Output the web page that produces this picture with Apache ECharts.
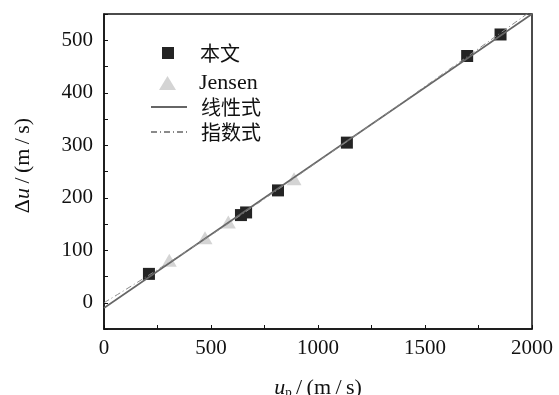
<!DOCTYPE html>
<html>
<head>
<meta charset="utf-8">
<script src="https://cdn.jsdelivr.net/npm/echarts@6/dist/echarts.min.js"></script>
<style>html,body{margin:0;padding:0;background:#fff}#c{width:559px;height:395px}</style>
</head>
<body>
<div id="c"></div>
<script>
var seriesNames = ['本文', 'Jensen', '线性式', '指数式'];
var benwenData = [[210, 55], [640, 167], [664, 172], [813, 214], [1135, 305], [1697, 470], [1853, 511]];
var jensenData = [[305, 81], [472, 124], [581, 154], [888, 236]];
var linearData = [[0, -10], [2000, 550]];
var expData = [[0, 0], [250, 63], [500, 129], [750, 198], [1000, 269], [1250, 340], [1500, 412], [1750, 484], [2000, 557]];
var xTicks = [0, 500, 1000, 1500, 2000];
var yTicks = [0, 100, 200, 300, 400, 500];

var serif = '"Liberation Serif", "Noto Sans CJK SC", serif';
var cjk = '"Noto Sans CJK SC", "Liberation Serif", serif';
function legendFor(name, left, top, w, h, pad, font, size, extra) {
  var l = {
    orient: 'vertical', left: left, top: top, padding: 0,
    itemWidth: w, itemHeight: h, itemGap: 0,
    data: [name],
    textStyle: {fontFamily: font, fontSize: size, color: '#111', lineHeight: 20, padding: [0, 0, 0, pad]}
  };
  if (extra) { for (var k in extra) l[k] = extra[k]; }
  return l;
}
var chart = echarts.init(document.getElementById('c'));
chart.setOption({
  animation: false,
  backgroundColor: '#fff',
  grid: {left: 104, right: 27, top: 14, bottom: 66, show: true, borderColor: '#111', borderWidth: 1.5,
    containLabel: false, outerBoundsMode: 'none'},
  legend: [
    legendFor(seriesNames[0], 162, 43, 12, 12, 21, cjk, 20, {symbolKeepAspect: true}),
    legendFor(seriesNames[1], 159, 72, 17, 14, 18, serif, 22, {symbolKeepAspect: false}),
    legendFor(seriesNames[2], 150, 97, 36, 12, 9, cjk, 20, {itemStyle: {opacity: 0}}),
    legendFor(seriesNames[3], 150, 122, 36, 12, 9, cjk, 20, {itemStyle: {opacity: 0}})
  ],
  xAxis: {
    type: 'value', min: 0, max: 2000, interval: 250,
    name: '{i|u}{s|p}{n|\u2009/\u2009(m\u2009/\u2009s)}', nameLocation: 'middle', nameGap: 48,
    nameTextStyle: {rich: {
      i: {fontFamily: serif, fontStyle: 'italic', fontSize: 22, color: '#111', lineHeight: 22},
      s: {fontFamily: serif, fontSize: 13, color: '#111', verticalAlign: 'bottom', lineHeight: 13},
      n: {fontFamily: serif, fontSize: 22, color: '#111', lineHeight: 22}
    }},
    axisLine: {onZero: false, lineStyle: {color: '#111', width: 1.5}},
    axisTick: {inside: true, length: 4, lineStyle: {color: '#111'}},
    splitLine: {show: false},
    axisLabel: {margin: 9, fontFamily: serif, fontSize: 21, color: '#111',
      formatter: function (v) { return xTicks.indexOf(v) >= 0 ? String(v) : ''; }}
  },
  yAxis: {
    type: 'value', min: -50, max: 550, interval: 50,
    name: '{d|Δ}{i|u}{n|\u2009/\u2009(m\u2009/\u2009s)}', nameLocation: 'middle', nameGap: 70, nameRotate: 90,
    nameTextStyle: {padding: [0, 0, 0, 12], rich: {
      d: {fontFamily: serif, fontSize: 22, color: '#111'},
      i: {fontFamily: serif, fontStyle: 'italic', fontSize: 22, color: '#111'},
      n: {fontFamily: serif, fontSize: 22, color: '#111'}
    }},
    axisLine: {show: true, onZero: false, lineStyle: {color: '#111', width: 1.5}},
    axisTick: {inside: true, length: 4, lineStyle: {color: '#111'}},
    splitLine: {show: false},
    axisLabel: {margin: 11, fontFamily: serif, fontSize: 21, color: '#111',
      formatter: function (v) { return yTicks.indexOf(v) >= 0 ? String(v) : ''; }}
  },
  series: [
    {name: seriesNames[0], type: 'scatter', data: benwenData, symbol: 'rect', symbolSize: 12,
      itemStyle: {color: '#242424', opacity: 1}, z: 2},
    {name: seriesNames[1], type: 'scatter', data: jensenData, symbol: 'triangle', symbolSize: [15, 13],
      itemStyle: {color: '#d4d4d4', opacity: 1}, z: 2},
    {name: seriesNames[2], type: 'line', data: linearData, symbol: 'none', showSymbol: false,
      lineStyle: {color: '#666', width: 1.6}, itemStyle: {color: '#666'}, z: 3, clip: true},
    {name: seriesNames[3], type: 'line', data: expData, symbol: 'none', showSymbol: false, smooth: true,
      lineStyle: {color: '#8a8a8a', width: 1, type: [6, 3, 1, 3]}, itemStyle: {color: '#8a8a8a'}, z: 3, clip: true}
  ]
});
</script>
</body>
</html>
